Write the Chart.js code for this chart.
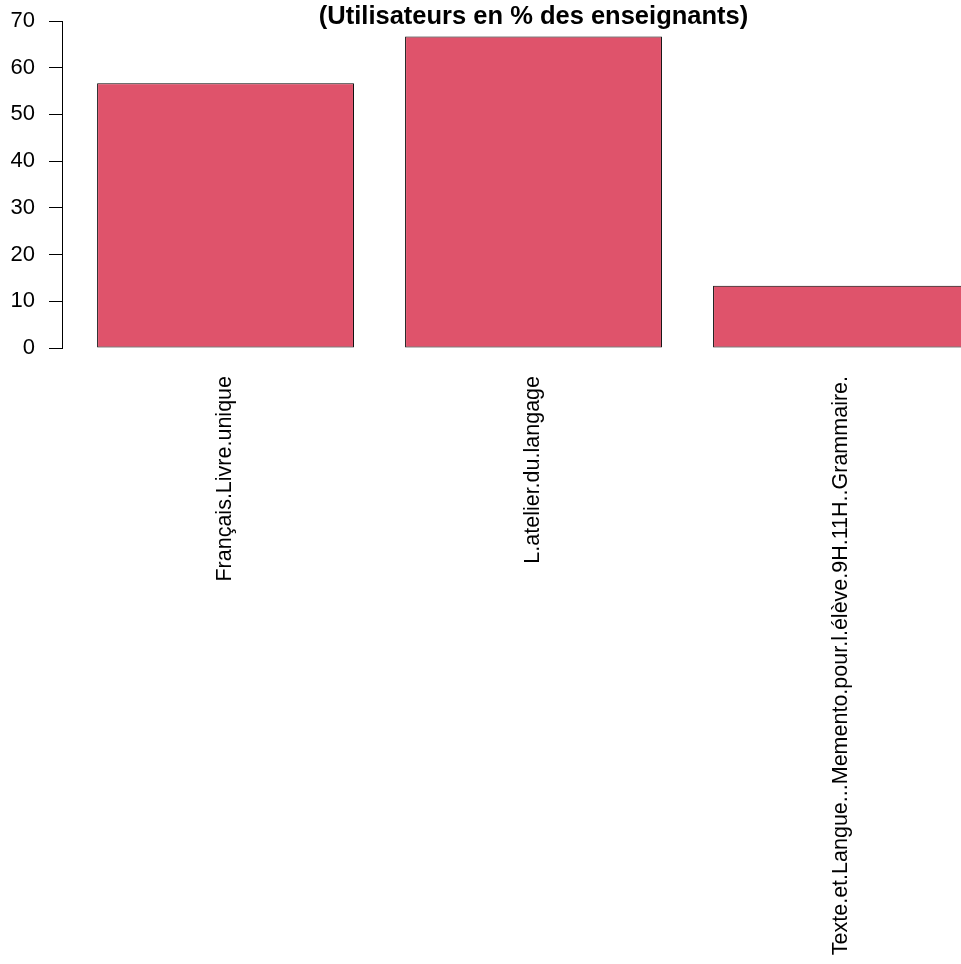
<!DOCTYPE html>
<html>
<head>
<meta charset="utf-8">
<script src="https://cdn.jsdelivr.net/npm/chart.js@4/dist/chart.umd.min.js"></script>
<style>
  html, body { margin: 0; padding: 0; background: #fff; }
  #wrap { width: 961px; height: 964px; }
</style>
</head>
<body>
<div id="wrap"><canvas id="barChart"></canvas></div>
<script>
const titleText = '(Utilisateurs en % des enseignants)';
const categories = [
  'Français.Livre.unique',
  'L.atelier.du.langage',
  'Texte.et.Langue...Memento.pour.l.élève.9H.11H..Grammaire.'
];
const positions = [1, 2, 3];
const values = [56.67, 66.67, 13.33];
const yTicks = [0, 10, 20, 30, 40, 50, 60, 70];

const fontFam = '"Liberation Sans", Arial, Helvetica, sans-serif';

// title drawn over the middle bar, like R centres it on the plot region
const titlePlugin = {
  id: 'rtitle',
  afterDraw(chart) {
    const ctx = chart.ctx;
    const x = chart.scales.x.getPixelForValue(2);
    ctx.save();
    ctx.font = 'bold 25.5px ' + fontFam;
    ctx.fillStyle = '#000';
    ctx.textAlign = 'center';
    ctx.textBaseline = 'alphabetic';
    ctx.fillText(titleText, x, 24);
    ctx.restore();
  }
};

var ctx = document.getElementById('barChart').getContext('2d');
var chart = new Chart(ctx, {
  type: 'bar',
  data: {
    datasets: [{
      data: positions.map((p, i) => ({x: p, y: values[i]})),
      backgroundColor: '#DF536B',
      borderColor: '#000',
      borderWidth: 1,
      borderSkipped: false,
      barPercentage: 1,
      categoryPercentage: 0.834
    }]
  },
  options: {
    responsive: true,
    maintainAspectRatio: false,
    animation: false,
    layout: { padding: { top: 21, bottom: 0, left: 0, right: 0 } },
    plugins: {
      legend: { display: false },
      tooltip: { enabled: false },
      title: { display: false }
    },
    scales: {
      x: {
        type: 'linear',
        offset: false,
        min: 0.469,
        max: 3.388,
        grid: { display: false },
        border: { display: false },
        afterBuildTicks: function(scale) {
          scale.ticks = positions.map(p => ({value: p}));
        },
        // long labels: let the axis take the room below the bars
        afterFit: function(scale) { scale.height = 616; },
        ticks: {
          autoSkip: false,
          minRotation: 90,
          maxRotation: 90,
          padding: 20,
          color: '#000',
          font: { family: fontFam, size: 21.5 },
          callback: function(v) { return categories[positions.indexOf(v)]; }
        }
      },
      y: {
        min: 0,
        max: 70,
        afterBuildTicks: function(scale) {
          scale.ticks = yTicks.map(v => ({value: v}));
        },
        afterFit: function(scale) {
          scale.width = 62;
          scale.paddingTop = 0;
          scale.paddingBottom = 0;
        },
        grid: {
          drawOnChartArea: false,
          drawTicks: true,
          tickLength: 13,
          color: '#000',
          lineWidth: 1
        },
        border: { display: true, color: '#000', width: 1 },
        ticks: {
          padding: 14,
          color: '#000',
          font: { family: fontFam, size: 22 }
        }
      }
    }
  },
  plugins: [titlePlugin]
});
</script>
</body>
</html>
